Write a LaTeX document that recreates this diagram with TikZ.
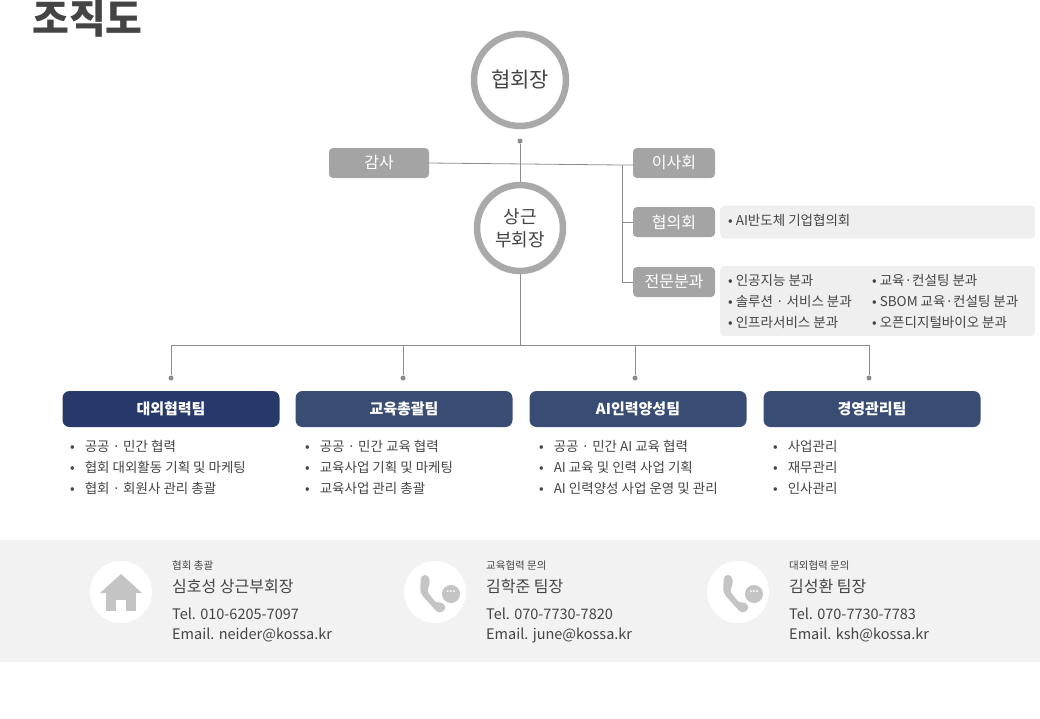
\documentclass[tikz,border=0pt]{standalone}
\usepackage{fontspec}
\setmainfont{Noto Sans CJK KR}
\usetikzlibrary{positioning}
\definecolor{ringgray}{HTML}{A9A9A9}
\definecolor{boxgray}{HTML}{A4A4A4}
\definecolor{linegray}{HTML}{8C8C8C}
\definecolor{panelgray}{HTML}{EFEFEF}
\definecolor{teamblue}{HTML}{394C74}
\definecolor{teamdark}{HTML}{26396A}
\definecolor{bandgray}{HTML}{F2F2F2}
\definecolor{icongray}{HTML}{C4C4C4}
\definecolor{txtgray}{HTML}{444444}
\tikzset{%
    head circle/.style={
      circle,
      draw=ringgray,
      line width=6.5pt,
      fill=white,
      text=txtgray,
      align=center,
      font=\fontsize{21}{24}\selectfont
    },
    role box/.style={
      rectangle,
      rounded corners=4pt,
      fill=boxgray,
      text=white,
      minimum width=82pt,
      minimum height=30pt,
      font=\fontsize{16}{18}\selectfont
    },
    info panel/.style={
      rectangle,
      rounded corners=4pt,
      fill=panelgray
    },
    team box/.style={
      rectangle,
      rounded corners=7pt,
      fill=teamblue,
      text=white,
      minimum width=217pt,
      minimum height=36pt,
      font=\fontsize{15}{16}\bfseries\selectfont
    },
    item/.style={
      anchor=west,
      text=txtgray,
      inner sep=0pt,
      font=\fontsize{13.5}{14}\selectfont
    },
    tie/.style={
      draw=linegray,
      line width=0.8pt
    },
    end dot/.style={
      circle,
      fill=linegray,
      inner sep=0pt,
      minimum size=5pt
    },
    icon disc/.style={
      circle,
      fill=white,
      minimum size=62pt,
      inner sep=0pt
    }
  }
\begin{document}
\begin{tikzpicture}[x=1pt, y=-1pt]
      \useasboundingbox (0,0) rectangle (1040,718);

      \node [anchor=north west, inner sep=0pt, text=txtgray, font=\fontsize{40}{42}\bfseries\selectfont] (title) at (32,0) {조직도};

      % boxes and panels
      \node [info panel, minimum width=315pt, minimum height=33pt, anchor=west] (council panel) at (720,222) {};
      \node [info panel, minimum width=315pt, minimum height=70pt, anchor=west] (branch panel) at (720,301) {};

      \node [role box, minimum width=100pt] (audit) at (379,163) {감사};
      \node [role box] (board) at (674,163) {이사회};
      \node [role box] (council) at (674,222) {협의회};
      \node [role box] (branch) at (674,282) {전문분과};

      \coordinate (split) at (622,165);
      \coordinate (bus) at (520,345);

      \draw [tie] (audit.east) -- (split) -- (board.west |- split);
      \draw [tie] (split) |- (council.west);
      \draw [tie] (split) |- (branch.west);

      \node [end dot] (top dot) at (520,141) {};
      \draw [tie] (top dot) -- (bus);

      \node [head circle, minimum size=92pt] (president) at (520,80) {협회장};
      \node [head circle, minimum width=84pt, minimum height=86pt, font=\fontsize{18}{23}\selectfont] (vice) at (520,228) {상근\\부회장};

      \node [item] (c1) at (728,220) {• AI반도체 기업협의회};
      \node [item] (b1) at (728,280) {• 인공지능 분과};
      \node [item] (b2) at (728,301) {• 솔루션 · 서비스 분과};
      \node [item] (b3) at (728,322) {• 인프라서비스 분과};
      \node [item] (b4) at (872,280) {• 교육·컨설팅 분과};
      \node [item] (b5) at (872,301) {• SBOM 교육·컨설팅 분과};
      \node [item] (b6) at (872,322) {• 오픈디지털바이오 분과};

      % teams
      \node [team box, fill=teamdark] (t1) at (171,409) {대외협력팀};
      \node [team box] (t2) at (404,409) {교육총괄팀};
      \node [team box] (t3) at (638,409) {AI인력양성팀};
      \node [team box] (t4) at (872,409) {경영관리팀};

      \foreach \t/\x in {t1/171,t2/403,t3/635,t4/869} {
        \node [end dot] (\t dot) at (\x,378) {};
        \draw [tie] (\t dot) |- (bus);
      }

      \node [item] (l11) at (70,446) {•\hspace{10pt}공공 · 민간 협력};
      \node [item] (l12) at (70,467) {•\hspace{10pt}협회 대외활동 기획 및 마케팅};
      \node [item] (l13) at (70,488) {•\hspace{10pt}협회 · 회원사 관리 총괄};
      \node [item] (l21) at (305,446) {•\hspace{10pt}공공 · 민간 교육 협력};
      \node [item] (l22) at (305,467) {•\hspace{10pt}교육사업 기획 및 마케팅};
      \node [item] (l23) at (305,488) {•\hspace{10pt}교육사업 관리 총괄};
      \node [item] (l31) at (539,446) {•\hspace{10pt}공공 · 민간 AI 교육 협력};
      \node [item] (l32) at (539,467) {•\hspace{10pt}AI 교육 및 인력 사업 기획};
      \node [item] (l33) at (539,488) {•\hspace{10pt}AI 인력양성 사업 운영 및 관리};
      \node [item] (l41) at (773,446) {•\hspace{10pt}사업관리};
      \node [item] (l42) at (773,467) {•\hspace{10pt}재무관리};
      \node [item] (l43) at (773,488) {•\hspace{10pt}인사관리};

      % contact band
      \fill [bandgray] (0,540) rectangle (1040,662);

      \node [icon disc] (home icon) at (121,592) {};
      \fill [icongray] (100,593) -- (121,574) -- (142,593) -- cycle;
      \fill [icongray] (106,591) rectangle (136,611);
      \fill [white] (116,600) rectangle (126,611);

      \foreach \n/\x in {call a/435,call b/738} {
        \node [icon disc] (\n) at (\x,592) {};
        \fill [icongray, rounded corners=4pt] (\x-14,575) -- (\x-6,575) -- (\x-5,586) -- (\x-9,590)
          -- (\x+2,604) -- (\x+6,601) -- (\x+12,608) -- (\x+4,614) -- (\x-15,593) -- cycle;
        \node [circle, fill=icongray, minimum size=18pt, inner sep=0pt] (\n bubble) at (\x+16,594) {};
        \node [white, font=\fontsize{9}{9}\bfseries\selectfont, inner sep=0pt] (\n dots) at (\x+16,592) {...};
      }

      \foreach \k/\x/\tag/\who/\tel/\mail in {
          a/172/협회 총괄/심호성 상근부회장/010-6205-7097/neider@kossa.kr,
          b/486/교육협력 문의/김학준 팀장/070-7730-7820/june@kossa.kr,
          c/789/대외협력 문의/김성환 팀장/070-7730-7783/ksh@kossa.kr} {
        \node [item, font=\fontsize{10.5}{12}\selectfont] (tag \k) at (\x,566) {\tag};
        \node [item, font=\fontsize{16}{17}\selectfont] (who \k) at (\x,586) {\who};
        \node [item, font=\fontsize{14.5}{15}\selectfont] (tel \k) at (\x,614) {Tel. \tel};
        \node [item, font=\fontsize{14.5}{15}\selectfont] (mail \k) at (\x,635) {Email. \mail};
      }
    \end{tikzpicture}
\end{document}
